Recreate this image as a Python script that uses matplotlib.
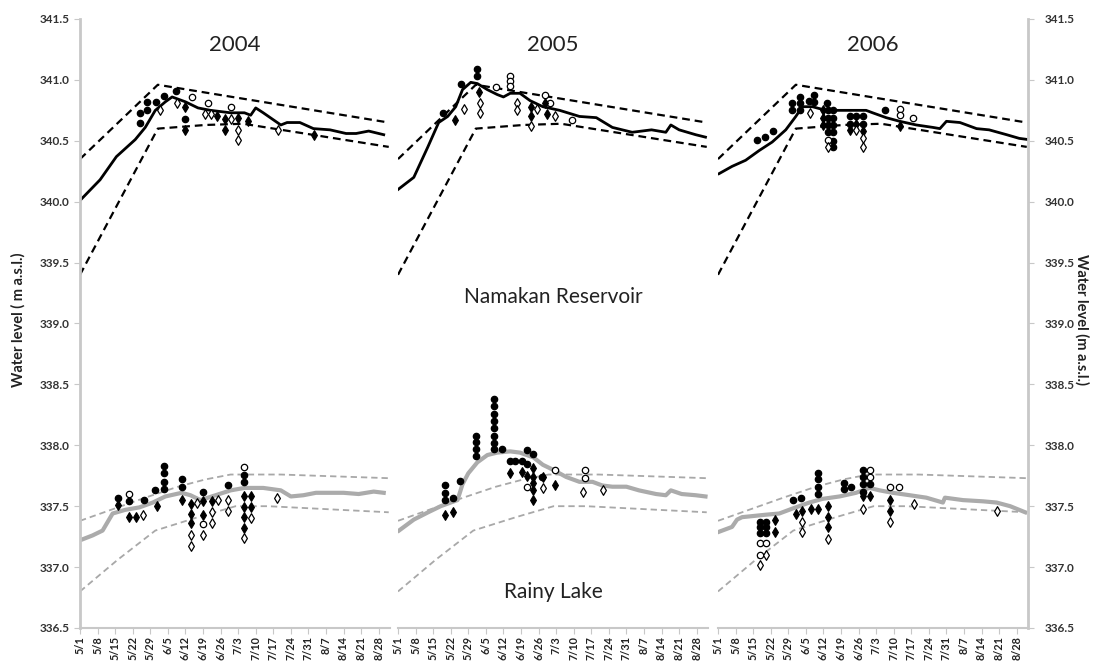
"""Namakan Reservoir / Rainy Lake water levels, 2004-2006, with rule curves."""

import matplotlib.pyplot as plt
import numpy as np

plt.rcParams["font.family"] = ["Lato", "DejaVu Sans"]

YEARS = ["2004", "2005", "2006"]
TICK_DAYS = list(range(0, 120, 7))
TICK_LABELS = ["5/1", "5/8", "5/15", "5/22", "5/29", "6/5", "6/12", "6/19", "6/26",
               "7/3", "7/10", "7/17", "7/24", "7/31", "8/7", "8/14", "8/21", "8/28"]

# rule curves (day since May 1, level m a.s.l.), same every year
NAM_UP_DAY = [0, 31, 123]
NAM_UP_LVL = [340.35, 340.96, 340.65]
NAM_LO_DAY = [0, 31, 50, 65, 123]
NAM_LO_LVL = [339.40, 340.60, 340.63, 340.64, 340.45]
RL_UP_DAY = [0, 26, 39, 50, 60, 80, 123]
RL_UP_LVL = [337.38, 337.57, 337.66, 337.72, 337.76, 337.76, 337.73]
RL_LO_DAY = [0, 15, 30, 47, 62, 75, 123]
RL_LO_LVL = [336.80, 337.06, 337.30, 337.41, 337.50, 337.50, 337.45]

# observed levels
NAM04_DAY = [0, 8, 14.5, 22, 26, 30, 34, 36.7, 42, 47, 52, 60, 65.5, 68, 70, 73, 80, 82.5,
             87.6, 93, 99.6, 106, 110, 115, 121]
NAM04_LVL = [340.01, 340.18, 340.37, 340.51, 340.61, 340.75, 340.82, 340.86, 340.82, 340.77,
             340.75, 340.73, 340.73, 340.71, 340.77, 340.73, 340.63, 340.65, 340.65, 340.60,
             340.59, 340.56, 340.56, 340.58, 340.55]
NAM05_DAY = [0, 6.3, 11.9, 16.2, 19.8, 23, 25.7, 29, 31.6, 35.6, 39.5, 42, 44.7, 48.6, 52.6,
             57.7, 64.4, 72.3, 79, 85.4, 93.3, 101, 106.7, 108.7, 112, 118.6, 122.5]
NAM05_LVL = [340.10, 340.20, 340.45, 340.65, 340.70, 340.78, 340.92, 340.98, 340.97, 340.92,
             340.88, 340.86, 340.89, 340.89, 340.83, 340.78, 340.75, 340.70, 340.69, 340.61,
             340.57, 340.59, 340.57, 340.63, 340.59, 340.55, 340.53]
NAM06_DAY = [0.4, 5.6, 11, 16.4, 21.6, 27, 31, 33.6, 37.6, 43, 49.6, 59, 61.6, 67, 72.4, 79,
             85.6, 88.4, 91, 96.4, 103, 108, 115, 120, 123.6]
NAM06_LVL = [340.23, 340.29, 340.34, 340.42, 340.49, 340.59, 340.70, 340.78, 340.78, 340.75,
             340.75, 340.75, 340.73, 340.69, 340.66, 340.63, 340.61, 340.60, 340.66, 340.65,
             340.60, 340.59, 340.55, 340.52, 340.51]

RL04_DAY = [0, 5, 9, 11, 13, 18, 23.6, 29, 34, 40.5, 44, 48, 54, 60, 65.5, 73, 80, 84, 89,
            94, 105, 111, 117, 121]
RL04_LVL = [337.22, 337.26, 337.30, 337.37, 337.44, 337.47, 337.49, 337.53, 337.58, 337.61,
            337.59, 337.55, 337.59, 337.63, 337.65, 337.65, 337.63, 337.58, 337.59, 337.61,
            337.61, 337.60, 337.62, 337.61]
RL05_DAY = [0.4, 6.3, 12, 17, 21, 23.7, 25.7, 28, 31.6, 35.6, 39.5, 44.7, 48.6, 54, 57.7,
            61.7, 67, 72.3, 77.5, 81.4, 85.4, 91, 96, 102.8, 106.7, 108.7, 113, 118.6, 122.5]
RL05_LVL = [337.30, 337.39, 337.45, 337.50, 337.53, 337.55, 337.68, 337.77, 337.86, 337.92,
            337.94, 337.95, 337.94, 337.90, 337.84, 337.80, 337.74, 337.70, 337.70, 337.67,
            337.66, 337.66, 337.63, 337.60, 337.59, 337.63, 337.60, 337.59, 337.58]
RL06_DAY = [0.4, 5.6, 7.6, 9.6, 19, 24.4, 29.6, 36.4, 41.6, 48.4, 55, 60.4, 64.4, 69.6, 76.4,
            83, 89.6, 90.4, 97.6, 105.6, 111, 116.4, 122.4]
RL06_LVL = [337.29, 337.33, 337.39, 337.41, 337.43, 337.44, 337.48, 337.53, 337.56, 337.58,
            337.61, 337.65, 337.63, 337.61, 337.59, 337.57, 337.53, 337.57, 337.55, 337.54,
            337.53, 337.50, 337.45]

# point observations (day, level) by marker type
NAM04_FC = [(23.8, 340.73), (23.8, 340.65), (26.8, 340.82), (26.8, 340.75), (30.1, 340.82),
            (33.4, 340.87), (38.2, 340.91), (42, 340.68)]
NAM04_OC = [(44.5, 340.86), (50.8, 340.81), (60.2, 340.78)]
NAM04_FD = [(42, 340.78), (42, 340.59), (54.7, 340.70), (57.6, 340.68), (57.6, 340.59),
            (63.1, 340.69), (67, 340.66), (93.2, 340.55)]
NAM04_OD = [(32, 340.75), (38.6, 340.81), (49.7, 340.72), (52, 340.72), (60.2, 340.68),
            (62.8, 340.59), (62.8, 340.51), (78.8, 340.59)]

NAM05_FC = [(18, 340.73), (25, 340.97), (31.4, 341.09), (31.4, 341.03)]
NAM05_OC = [(38.9, 340.94), (44.8, 341.03), (44.8, 340.99), (44.8, 340.95), (58.5, 340.88),
            (60.7, 340.81), (69.3, 340.67)]
NAM05_FD = [(22.8, 340.67), (32.3, 340.90), (52.8, 340.78), (52.8, 340.70), (59.4, 340.72),
            (58.5, 340.81)]
NAM05_OD = [(26.3, 340.76), (32.5, 340.81), (32.5, 340.73), (47.5, 340.81), (47.5, 340.75),
            (55.4, 340.76), (52.8, 340.62), (62.4, 340.70)]

NAM06_FC = [(15.5, 340.51), (18.8, 340.53), (22.1, 340.58), (29.3, 340.81), (29.3, 340.75),
            (32.8, 340.86), (32.8, 340.81), (32.8, 340.75), (36.1, 340.83), (38.4, 340.88),
            (38.4, 340.82), (43.3, 340.81), (66.7, 340.75),
            (43.7, 340.75), (43.7, 340.69), (43.7, 340.63), (43.7, 340.57),
            (45.7, 340.75), (45.7, 340.69), (45.7, 340.63), (45.7, 340.57), (45.7, 340.50),
            (45.7, 340.45), (52.4, 340.70), (52.4, 340.64), (55, 340.70), (57.7, 340.70),
            (57.7, 340.64)]
NAM06_OC = [(72.5, 340.76), (72.5, 340.71), (77.8, 340.69), (43.7, 340.51)]
NAM06_FD = [(41.7, 340.75), (41.7, 340.69), (41.7, 340.63), (52.4, 340.59), (55, 340.64),
            (57.7, 340.58), (72.5, 340.62)]
NAM06_OD = [(36.5, 340.73), (43.7, 340.45), (55, 340.59), (57.7, 340.52), (57.7, 340.45)]

RL04_FC = [(15, 337.57), (19.4, 337.54), (25.3, 337.55), (29.8, 337.63), (33.4, 337.83),
           (33.4, 337.77), (33.4, 337.70), (33.4, 337.64), (40.8, 337.72), (40.8, 337.66),
           (49, 337.62), (58.9, 337.67), (65.4, 337.76), (65.4, 337.70)]
RL04_OC = [(19.4, 337.60), (65.4, 337.82), (49, 337.35)]
RL04_FD = [(15, 337.51), (19.4, 337.41), (22.3, 337.41), (30.5, 337.50), (40.8, 337.55),
           (44.2, 337.52), (44.2, 337.44), (44.2, 337.36), (49, 337.54), (49, 337.43),
           (52.4, 337.54), (65.4, 337.58), (65.4, 337.49), (65.4, 337.41), (65.4, 337.32),
           (68.3, 337.58), (68.3, 337.49)]
RL04_OD = [(25.1, 337.43), (44.2, 337.26), (44.2, 337.17), (46.5, 337.53), (49, 337.26),
           (52.4, 337.45), (52.4, 337.36), (55, 337.55), (58.9, 337.55), (58.9, 337.46),
           (65.4, 337.24), (68.3, 337.40), (78.3, 337.57)]

RL05_FC = [(18.8, 337.67), (18.8, 337.61), (18.8, 337.55), (22, 337.57), (24.6, 337.71),
           (31, 338.08), (31, 338.03), (31, 337.97), (31, 337.91),
           (38.2, 338.38), (38.2, 338.32), (38.2, 338.26), (38.2, 338.20), (38.2, 338.14),
           (38.2, 338.08), (38.2, 338.02), (38.2, 337.97), (41.3, 337.97), (51.5, 337.96),
           (53.8, 337.93), (44.5, 337.87), (46.6, 337.87), (49.3, 337.87), (51.5, 337.85),
           (57.4, 337.74)]
RL05_OC = [(62.7, 337.80), (74.6, 337.80), (74.6, 337.73), (51.5, 337.66)]
RL05_FD = [(18.8, 337.43), (22, 337.45), (44.5, 337.77), (49.3, 337.78), (51.5, 337.75),
           (53.8, 337.81), (53.8, 337.74), (53.8, 337.63), (53.8, 337.55), (57.8, 337.74),
           (62.4, 337.67), (53.8, 337.69)]
RL05_OD = [(57.8, 337.65), (73.6, 337.62), (81.5, 337.63)]

RL06_FC = [(16.7, 337.37), (16.7, 337.33), (16.7, 337.28), (19.3, 337.37), (19.3, 337.33),
           (19.3, 337.28), (30, 337.55), (33, 337.57), (39.7, 337.77), (39.7, 337.72),
           (39.7, 337.66), (39.7, 337.60), (50, 337.69), (50, 337.64), (53, 337.66),
           (57.7, 337.80), (57.7, 337.74), (57.7, 337.68), (57.7, 337.62), (60.7, 337.68)]
RL06_OC = [(16.7, 337.20), (16.7, 337.10), (19.3, 337.20), (60.7, 337.80), (60.7, 337.74),
           (68.4, 337.66), (72.1, 337.66)]
RL06_FD = [(22.8, 337.39), (22.8, 337.29), (31, 337.44), (33.5, 337.46), (37, 337.48),
           (39.7, 337.48), (43.7, 337.50), (43.7, 337.41), (43.7, 337.33), (57.7, 337.58),
           (60.7, 337.58), (68.4, 337.55), (68.4, 337.46)]
RL06_OD = [(16.7, 337.02), (19.3, 337.10), (33.5, 337.37), (33.5, 337.29), (43.7, 337.23),
           (57.7, 337.48), (68.4, 337.37), (78, 337.52), (111, 337.46)]

NAM_LINES = {"2004": (NAM04_DAY, NAM04_LVL), "2005": (NAM05_DAY, NAM05_LVL),
             "2006": (NAM06_DAY, NAM06_LVL)}
RL_LINES = {"2004": (RL04_DAY, RL04_LVL), "2005": (RL05_DAY, RL05_LVL),
            "2006": (RL06_DAY, RL06_LVL)}
POINTS = {"2004": [NAM04_FC, NAM04_OC, NAM04_FD, NAM04_OD, RL04_FC, RL04_OC, RL04_FD, RL04_OD],
          "2005": [NAM05_FC, NAM05_OC, NAM05_FD, NAM05_OD, RL05_FC, RL05_OC, RL05_FD, RL05_OD],
          "2006": [NAM06_FC, NAM06_OC, NAM06_FD, NAM06_OD, RL06_FC, RL06_OC, RL06_FD, RL06_OD]}
MARKERS = [("o", "k"), ("o", "w"), ("d", "k"), ("d", "w")] * 2

W, H = 1095, 664
fig = plt.figure(figsize=(W / 100, H / 100), dpi=100)
panel_x = [80, 398, 718]
panel_w = 310
bottom, top = 628, 19
axes = []
for i, yr in enumerate(YEARS):
    ax = fig.add_axes([panel_x[i] / W, 1 - bottom / H, panel_w / W, (bottom - top) / H])
    axes.append(ax)
    ax.set_xlim(0, 123.5)
    ax.set_ylim(336.5, 341.5)
    for s in ax.spines.values():
        s.set_visible(False)
    ax.spines["bottom"].set_visible(True)
    ax.spines["bottom"].set_color("#c8c8c8")
    ax.spines["bottom"].set_linewidth(1.5)

    # rule curves
    dash = (0, (3.5, 2.2))
    ax.plot(NAM_UP_DAY, NAM_UP_LVL, color="k", ls=dash, lw=1.6)
    ax.plot(NAM_LO_DAY, NAM_LO_LVL, color="k", ls=dash, lw=1.6)
    ax.plot(RL_UP_DAY, RL_UP_LVL, color="#a8a8a8", ls=dash, lw=1.3)
    ax.plot(RL_LO_DAY, RL_LO_LVL, color="#a8a8a8", ls=dash, lw=1.3)

    # observed water levels
    ax.plot(*NAM_LINES[yr], color="k", lw=2.0, solid_joinstyle="round")
    ax.plot(*RL_LINES[yr], color="#ababab", lw=3.0, solid_joinstyle="round")

    for pts, (m, fc) in zip(POINTS[yr], MARKERS):
        d, v = np.array(pts).T
        ax.scatter(d, v, marker=m, s=21 if m == "o" else 24, facecolor=fc,
                   edgecolor="k", linewidths=0.9, zorder=4)

    ax.set_xticks(TICK_DAYS)
    ax.set_xticklabels(TICK_LABELS, rotation=90, fontsize=7.8, fontweight="bold",
                       color="#222222")
    ax.tick_params(axis="x", length=4, color="#c8c8c8", pad=2)
    ax.set_yticks(np.arange(336.5, 341.6, 0.5))
    ax.text(0.5, 0.957, yr, transform=ax.transAxes, ha="center", va="center",
            fontsize=16, color="#222222")

    if i == 0:
        ax.spines["left"].set_visible(True)
        ax.spines["left"].set_color("#c8c8c8")
        ax.spines["left"].set_linewidth(2)
        ax.tick_params(axis="y", length=4, color="#c8c8c8", labelsize=8.5,
                       labelcolor="#333333")
        ax.set_yticklabels([f"{v:.1f}" for v in ax.get_yticks()], fontweight="bold")
    elif i == 2:
        ax.spines["right"].set_visible(True)
        ax.spines["right"].set_color("#c8c8c8")
        ax.spines["right"].set_linewidth(2)
        ax.yaxis.tick_right()
        ax.tick_params(axis="y", length=4, color="#c8c8c8", labelsize=8.5,
                       labelcolor="#333333", pad=8)
        ax.set_yticklabels([f"{v:.1f}" for v in ax.get_yticks()], fontweight="bold")
    else:
        ax.tick_params(axis="y", left=False, labelleft=False)

axes[1].text(0.5, 0.543, "Namakan Reservoir", transform=axes[1].transAxes,
             ha="center", va="center", fontsize=15, color="#222222")
axes[1].text(0.5, 0.059, "Rainy Lake", transform=axes[1].transAxes,
             ha="center", va="center", fontsize=15, color="#222222")

fig.text(18 / W, 1 - 320 / H, "Water level ( m a.s.l.)", rotation=90, ha="center",
         va="center", fontsize=10.5, fontweight="bold", color="#222222")
fig.text(1082 / W, 1 - 320 / H, "Water level (m a.s.l.)", rotation=270, ha="center",
         va="center", fontsize=10.5, fontweight="bold", color="#222222")

fig.savefig("out.png", dpi=100)
